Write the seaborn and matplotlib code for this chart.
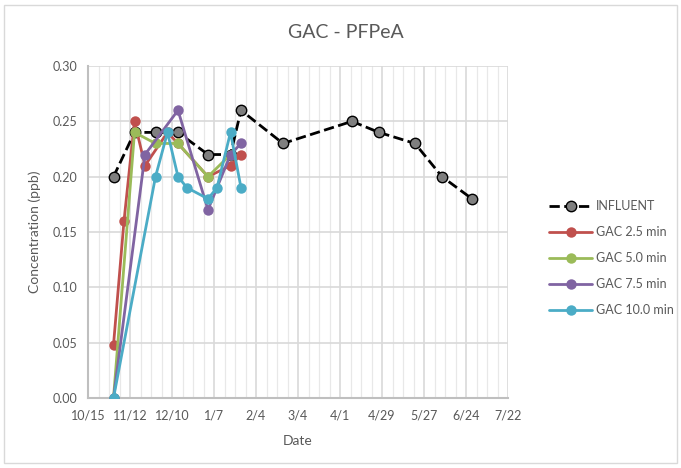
import matplotlib
matplotlib.use("Agg")
import matplotlib.dates as mdates
import matplotlib.pyplot as plt
import pandas as pd
import seaborn as sns
from matplotlib.patches import Rectangle

# -----------------------------
# Data
# -----------------------------
INFLUENT_DATES = ["2018-11-01", "2018-11-15", "2018-11-29", "2018-12-14", "2019-01-03",
                  "2019-01-18", "2019-01-25", "2019-02-22", "2019-04-09", "2019-04-27",
                  "2019-05-21", "2019-06-08", "2019-06-28"]
INFLUENT = [0.20, 0.24, 0.24, 0.24, 0.22, 0.22, 0.26, 0.23, 0.25, 0.24, 0.23, 0.20, 0.18]

GAC25_DATES = ["2018-11-01", "2018-11-08", "2018-11-15", "2018-11-22", "2018-12-07",
               "2018-12-14", "2019-01-03", "2019-01-18", "2019-01-25"]
GAC25 = [0.048, 0.16, 0.25, 0.21, 0.24, 0.23, 0.20, 0.21, 0.22]

GAC50_DATES = ["2018-11-01", "2018-11-15", "2018-11-29", "2018-12-14", "2019-01-03", "2019-01-18"]
GAC50 = [0.0, 0.24, 0.23, 0.23, 0.20, 0.22]

GAC75_DATES = ["2018-11-01", "2018-11-22", "2018-12-14", "2019-01-03", "2019-01-18", "2019-01-25"]
GAC75 = [0.0, 0.22, 0.26, 0.17, 0.22, 0.23]

GAC100_DATES = ["2018-11-01", "2018-11-29", "2018-12-07", "2018-12-14", "2018-12-20",
                "2019-01-03", "2019-01-09", "2019-01-18", "2019-01-25"]
GAC100 = [0.0, 0.20, 0.24, 0.20, 0.19, 0.18, 0.19, 0.24, 0.19]

TICK_DATES = ["2018-10-15", "2018-11-12", "2018-12-10", "2019-01-07", "2019-02-04", "2019-03-04",
              "2019-04-01", "2019-04-29", "2019-05-27", "2019-06-24", "2019-07-22"]

# -----------------------------
# Style
# -----------------------------
sns.set_theme(style="white")
plt.rcParams["font.family"] = ["Lato", "DejaVu Sans"]
TEXT = "#595959"
GRID = "#D9D9D9"

series = [
    ("INFLUENT", INFLUENT_DATES, INFLUENT, "black", "#7F7F7F", "--"),
    ("GAC 2.5 min", GAC25_DATES, GAC25, "#C0504D", "#C0504D", "-"),
    ("GAC 5.0 min", GAC50_DATES, GAC50, "#9BBB59", "#9BBB59", "-"),
    ("GAC 7.5 min", GAC75_DATES, GAC75, "#8064A2", "#8064A2", "-"),
    ("GAC 10.0 min", GAC100_DATES, GAC100, "#4BACC6", "#4BACC6", "-"),
]

fig = plt.figure(figsize=(6.81, 4.68), dpi=100)
ax = fig.add_axes([88 / 681, 1 - 398 / 468, (508 - 88) / 681, (398 - 66) / 468])

for label, dates, vals, lc, fc, ls in series:
    d = pd.DataFrame({"date": pd.to_datetime(dates), "value": vals})
    sns.lineplot(
        data=d, x="date", y="value", ax=ax, color=lc, linestyle=ls, linewidth=2,
        marker="o", markersize=7.5, markerfacecolor=fc,
        markeredgecolor="black" if label == "INFLUENT" else fc,
        markeredgewidth=1 if label == "INFLUENT" else 0,
        label=label, zorder=3,
    )

ticks = pd.to_datetime(TICK_DATES)
ax.set_xlim(ticks[0], ticks[-1])
ax.set_ylim(0, 0.30)
ax.set_xticks(ticks)
ax.xaxis.set_major_formatter(plt.FuncFormatter(
    lambda v, _: f"{mdates.num2date(v).month}/{mdates.num2date(v).day}"))
ax.set_xticks(pd.date_range(ticks[0], ticks[-1], freq="7D"), minor=True)
ax.set_yticks([0, 0.05, 0.10, 0.15, 0.20, 0.25, 0.30])
ax.yaxis.set_major_formatter(plt.FuncFormatter(lambda v, _: f"{v:.2f}"))

ax.grid(which="major", color=GRID, linewidth=1.2)
ax.grid(which="minor", axis="x", color="#E8E8E8", linewidth=0.9)
ax.set_axisbelow(True)
for s in ["top", "right"]:
    ax.spines[s].set_visible(False)
for s in ["left", "bottom"]:
    ax.spines[s].set_color("#BFBFBF")
    ax.spines[s].set_linewidth(1.5)
ax.tick_params(which="both", length=0, labelsize=9, colors=TEXT, pad=8)

ax.set_xlabel("Date", fontsize=10, color=TEXT, labelpad=10)
ax.set_ylabel("Concentration (ppb)", fontsize=10, color=TEXT, labelpad=8)
fig.suptitle("GAC - PFPeA", x=346 / 681, y=1 - 24 / 468, fontsize=14, color=TEXT)

handles, labels = ax.get_legend_handles_labels()
ax.legend_.remove()
fig.legend(handles, labels, loc="center left", bbox_to_anchor=(538 / 681, 1 - 258 / 468),
           frameon=False, fontsize=9, labelcolor=TEXT, handlelength=3.4, labelspacing=1.12,
           handletextpad=0.3)

fig.patches.append(Rectangle((4 / 681, 5 / 468), 673 / 681, 458 / 468, transform=fig.transFigure,
                             fill=False, edgecolor=GRID, linewidth=1))

fig.savefig("out.png", dpi=100)
